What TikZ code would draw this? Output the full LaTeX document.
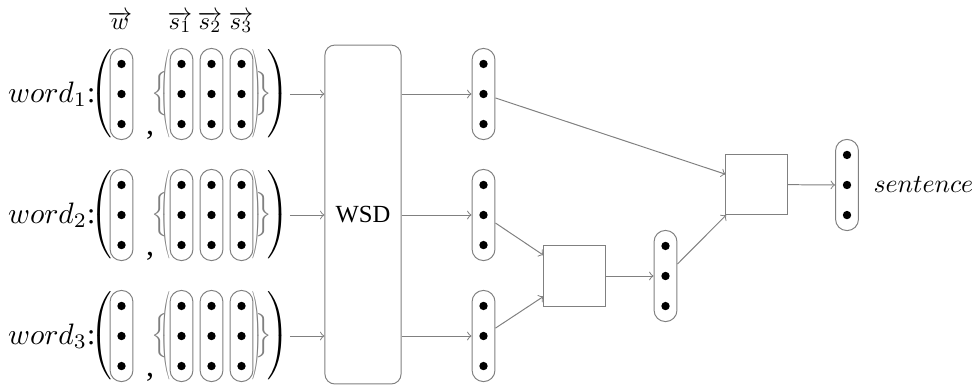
\documentclass[tikz,border=0pt]{standalone}
\usepackage{graphicx}
\usepackage{fontspec}
\setmainfont{Liberation Serif}
\usetikzlibrary{positioning}

\tikzset{
  vecbox/.style={draw=gray, rounded corners=4.6pt, minimum width=9.3pt, minimum height=37pt, inner sep=0pt},
  combbox/.style={draw=gray, minimum width=24.8pt, minimum height=24.4pt, inner sep=0pt},
  delim/.style={inner sep=0pt},
  conn/.style={gray, ->},
}
\newcommand{\tallL}{$\left(\vcenter{\hbox{\rule{0pt}{37pt}}}\right.$}
\newcommand{\tallR}{$\left.\vcenter{\hbox{\rule{0pt}{37pt}}}\right)$}
% capsule with three dots: name, position
\newcommand{\vecnode}[2]{%
  \node[vecbox] (#1) at (#2) {};
  \foreach \k in {-1,0,1} \fill ([yshift=\k*12.2pt]#1.center) circle (1.7pt);
}

\begin{document}
\begin{tikzpicture}[x=0.406pt,y=-0.406pt]
  \useasboundingbox (0,0) rectangle (972,385);

  % labels on top
  \node[anchor=base, inner sep=0pt] (lw) at (120,29) {$\overrightarrow{w}$};
  \foreach \j/\px in {1/180,2/210,3/241}
    \node[anchor=base, inner sep=0pt] (ls\j) at (\px,29) {$\overrightarrow{s_{\j}}$};

  % input words
  \foreach \i/\ry in {1/94,2/215,3/336} {
    \node[anchor=east, inner sep=0pt, scale=1.2] (word\i) at (96,\ry) {$word_{\i}$:};
    \node[delim] (lp\i) at (103,\ry) {\tallL};
    \vecnode{w\i}{121.5,\ry}
    \node[anchor=base, inner sep=0pt, scale=1.3] (comma\i) at (150,\ry+40) {,};
    \node[delim, text=gray] (lb\i) at (160,\ry) {$\Big\{$};
    \node[delim, text=gray] (lg\i) at (166,\ry) {\scalebox{0.45}[1]{\tallL}};
    \vecnode{sa\i}{181.5,\ry}
    \vecnode{sb\i}{211.5,\ry}
    \vecnode{sc\i}{241.5,\ry}
    \node[delim, text=gray] (rg\i) at (257,\ry) {\scalebox{0.45}[1]{\tallR}};
    \node[delim, text=gray] (rb\i) at (264,\ry) {$\Big\}$};
    \node[delim] (rp\i) at (277,\ry) {\tallR};
  }

  \node[draw=gray, rounded corners=4pt, minimum width=30.9pt, minimum height=137.6pt] (wsd) at (363,214.5) {WSD};

  \foreach \i/\ry in {1/94,2/215,3/336} {
    \draw[conn] (rp\i.east) -- (rp\i.east -| wsd.west);
    \vecnode{o\i}{483.5,\ry}
    \draw[conn] (wsd.east |- o\i) -- (o\i);
  }

  % composition
  \node[combbox] (comb1) at (574.5,276) {};
  \vecnode{h1}{665.5,276}
  \node[combbox] (comb2) at (756.5,184.5) {};
  \vecnode{sent}{847,185}
  \node[anchor=west, inner sep=0pt, scale=1.05] (lsent) at (873,185) {$sentence$};

  \draw[conn] (o2) -- (comb1);
  \draw[conn] (o3) -- (comb1);
  \draw[conn] (comb1) -- (h1);
  \draw[conn] (h1) -- (comb2);
  \draw[conn] (o1) -- (comb2);
  \draw[conn] (comb2) -- (sent);
\end{tikzpicture}
\end{document}
